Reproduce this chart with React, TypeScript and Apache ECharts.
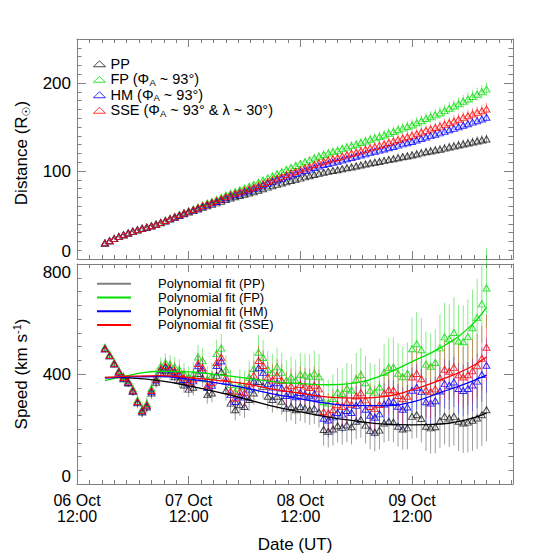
import React, { useEffect, useRef } from 'react';
import * as echarts from 'echarts';

const FONT = "'Liberation Sans', 'DejaVu Sans', Arial, sans-serif";
const AXIS_COLOR = '#808080';

// hours after 06 Oct 12:00 UT
const hours = [
  6, 7, 8, 9, 10, 11, 12, 13, 14, 15,
  16, 17, 18, 19, 20, 21, 22, 23, 24, 25,
  26, 27, 28, 29, 30, 31, 32, 33, 34, 35,
  36, 37, 38, 39, 40, 41, 42, 43, 44, 45,
  46, 47, 48, 49, 50, 51, 52, 53, 54, 55,
  56, 57, 58, 59, 60, 61, 62, 63, 64, 65,
  66, 67, 68, 69, 70, 71, 72, 73, 74, 75,
  76, 77, 78, 79, 80, 81, 82, 83, 84, 85,
  86, 87, 88,
];

// Distance (R_sun)
const ppDist = [
  18.2, 20.8, 23.2, 25.4, 27.5, 29.5, 31.4, 33.1, 34.7, 36.0,
  37.5, 39.2, 41.1, 43.2, 45.3, 47.4, 49.4, 51.4, 53.3, 55.0,
  56.7, 58.7, 60.6, 62.1, 63.8, 65.7, 67.7, 69.4, 70.8, 72.2,
  73.6, 75.0, 76.5, 78.1, 79.9, 81.7, 83.2, 84.8, 86.3, 87.8,
  89.2, 90.6, 91.9, 93.3, 94.6, 96.0, 97.3, 98.6, 99.6, 100.5,
  101.5, 102.5, 103.6, 104.6, 105.6, 106.8, 107.9, 109.0, 109.9, 110.8,
  111.8, 112.9, 114.0, 115.1, 116.2, 117.1, 118.1, 119.4, 120.6, 121.8,
  122.8, 123.8, 124.8, 126.0, 127.2, 128.3, 129.5, 130.7, 131.8, 132.9,
  134.0, 135.2, 136.4,
];
const fpDist = [
  18.2, 20.8, 23.2, 25.5, 27.6, 29.6, 31.6, 33.3, 35.0, 36.4,
  37.9, 39.7, 41.7, 44.0, 46.2, 48.5, 50.6, 52.8, 54.9, 56.9,
  59.0, 61.3, 63.6, 65.5, 67.6, 70.0, 72.6, 74.8, 76.7, 78.6,
  80.6, 82.7, 84.8, 87.1, 89.6, 92.2, 94.4, 96.9, 99.2, 101.7,
  103.9, 106.3, 108.4, 110.6, 112.6, 114.7, 116.8, 118.8, 120.5, 122.0,
  123.6, 125.4, 127.1, 128.8, 130.4, 132.3, 134.1, 136.0, 137.6, 139.2,
  140.9, 142.8, 144.8, 146.8, 148.7, 150.5, 152.3, 154.9, 157.1, 159.6,
  161.7, 163.8, 166.0, 168.6, 171.3, 173.8, 176.5, 179.3, 181.9, 184.6,
  187.3, 190.1, 193.0,
];
const hmDist = [
  18.2, 20.8, 23.2, 25.4, 27.5, 29.5, 31.4, 33.1, 34.8, 36.1,
  37.6, 39.4, 41.3, 43.5, 45.6, 47.8, 49.8, 51.9, 53.8, 55.7,
  57.6, 59.8, 61.8, 63.5, 65.4, 67.5, 69.7, 71.7, 73.3, 74.9,
  76.5, 78.2, 80.0, 81.9, 84.0, 86.1, 87.9, 89.9, 91.7, 93.6,
  95.4, 97.1, 98.8, 100.6, 102.2, 104.0, 105.6, 107.3, 108.6, 109.8,
  111.1, 112.5, 114.0, 115.4, 116.7, 118.2, 119.7, 121.2, 122.4, 123.7,
  125.0, 126.4, 127.9, 129.4, 130.8, 132.1, 133.5, 135.3, 137.0, 138.7,
  140.2, 141.8, 143.3, 145.0, 146.8, 148.4, 150.2, 152.0, 153.7, 155.5,
  157.2, 159.1, 161.0,
];
const sseDist = [
  18.2, 20.8, 23.2, 25.4, 27.5, 29.5, 31.4, 33.2, 34.8, 36.2,
  37.8, 39.5, 41.5, 43.7, 45.9, 48.1, 50.2, 52.3, 54.4, 56.3,
  58.2, 60.5, 62.6, 64.4, 66.4, 68.5, 70.9, 72.9, 74.6, 76.3,
  78.0, 79.7, 81.6, 83.6, 85.7, 88.0, 89.9, 91.9, 93.9, 96.0,
  97.9, 99.8, 101.5, 103.5, 105.3, 107.3, 109.2, 111.0, 112.5, 113.9,
  115.4, 116.9, 118.4, 120.0, 121.4, 123.1, 124.7, 126.3, 127.7, 129.1,
  130.6, 132.3, 134.0, 135.7, 137.5, 138.9, 140.5, 142.4, 144.4, 146.2,
  147.7, 149.4, 151.0, 153.0, 154.9, 156.9, 158.9, 160.9, 162.8, 164.7,
  166.6, 168.5, 170.5,
];

// Distance errors (R_sun)
const ppDistErr = [
  0.5, 0.6, 0.6, 0.7, 0.7, 0.8, 0.9, 0.9, 1.0, 1.0,
  1.1, 1.2, 1.2, 1.3, 1.4, 1.4, 1.5, 1.5, 1.6, 1.7,
  1.7, 1.8, 1.8, 1.9, 2.0, 2.0, 2.1, 2.1, 2.2, 2.3,
  2.3, 2.4, 2.5, 2.5, 2.6, 2.6, 2.7, 2.8, 2.8, 2.9,
  2.9, 3.0, 3.1, 3.1, 3.2, 3.3, 3.3, 3.4, 3.4, 3.5,
  3.6, 3.6, 3.7, 3.7, 3.8, 3.9, 3.9, 4.0, 4.1, 4.1,
  4.2, 4.2, 4.3, 4.4, 4.4, 4.5, 4.5, 4.6, 4.7, 4.7,
  4.8, 4.9, 4.9, 5.0, 5.0, 5.1, 5.2, 5.2, 5.3, 5.3,
  5.4, 5.5, 5.5,
];
const fpDistErr = [
  0.5, 0.6, 0.7, 0.8, 0.8, 0.9, 1.0, 1.1, 1.2, 1.3,
  1.4, 1.5, 1.5, 1.6, 1.7, 1.8, 1.9, 2.0, 2.1, 2.2,
  2.2, 2.3, 2.4, 2.5, 2.6, 2.7, 2.8, 2.8, 2.9, 3.0,
  3.1, 3.2, 3.3, 3.4, 3.5, 3.5, 3.6, 3.7, 3.8, 3.9,
  4.0, 4.1, 4.2, 4.2, 4.3, 4.4, 4.5, 4.6, 4.7, 4.8,
  4.9, 4.9, 5.0, 5.1, 5.2, 5.3, 5.4, 5.5, 5.6, 5.6,
  5.7, 5.8, 5.9, 6.0, 6.1, 6.2, 6.3, 6.3, 6.4, 6.5,
  6.6, 6.7, 6.8, 6.9, 6.9, 7.0, 7.1, 7.2, 7.3, 7.4,
  7.5, 7.6, 7.6,
];
const hmDistErr = [
  0.5, 0.6, 0.6, 0.7, 0.7, 0.8, 0.8, 0.9, 0.9, 1.0,
  1.0, 1.1, 1.1, 1.2, 1.2, 1.3, 1.3, 1.4, 1.4, 1.5,
  1.5, 1.6, 1.6, 1.7, 1.7, 1.8, 1.8, 1.9, 1.9, 2.0,
  2.1, 2.1, 2.2, 2.2, 2.3, 2.3, 2.4, 2.4, 2.5, 2.5,
  2.6, 2.6, 2.7, 2.7, 2.8, 2.8, 2.9, 2.9, 3.0, 3.0,
  3.1, 3.1, 3.2, 3.3, 3.3, 3.4, 3.4, 3.5, 3.5, 3.6,
  3.6, 3.7, 3.7, 3.8, 3.8, 3.9, 3.9, 4.0, 4.0, 4.1,
  4.1, 4.2, 4.2, 4.3, 4.4, 4.4, 4.5, 4.5, 4.6, 4.6,
  4.7, 4.7, 4.8,
];
const sseDistErr = [
  0.5, 0.6, 0.7, 0.7, 0.8, 0.9, 1.0, 1.1, 1.1, 1.2,
  1.3, 1.4, 1.5, 1.5, 1.6, 1.7, 1.8, 1.8, 1.9, 2.0,
  2.1, 2.2, 2.2, 2.3, 2.4, 2.5, 2.6, 2.6, 2.7, 2.8,
  2.9, 3.0, 3.0, 3.1, 3.2, 3.3, 3.3, 3.4, 3.5, 3.6,
  3.7, 3.7, 3.8, 3.9, 4.0, 4.1, 4.1, 4.2, 4.3, 4.4,
  4.5, 4.5, 4.6, 4.7, 4.8, 4.8, 4.9, 5.0, 5.1, 5.2,
  5.2, 5.3, 5.4, 5.5, 5.6, 5.6, 5.7, 5.8, 5.9, 6.0,
  6.0, 6.1, 6.2, 6.3, 6.4, 6.4, 6.5, 6.6, 6.7, 6.8,
  6.8, 6.9, 7.0,
];

// Speed (km/s)
const ppSpeed = [
  492, 466, 436, 406, 383, 367, 336, 295, 262, 280,
  331, 370, 405, 412, 402, 390, 378, 360, 345, 352,
  402, 385, 325, 331, 395, 408, 340, 294, 270, 288,
  282, 307, 331, 373, 355, 319, 307, 319, 301, 276,
  282, 270, 282, 276, 270, 274, 262, 198, 192, 200,
  212, 206, 215, 208, 228, 234, 214, 195, 188, 196,
  222, 228, 225, 210, 200, 204, 246, 252, 238, 210,
  204, 208, 230, 246, 240, 246, 228, 222, 225, 232,
  240, 252, 270,
];
const fpSpeed = [
  497, 472, 443, 413, 391, 376, 346, 305, 272, 293,
  348, 390, 429, 441, 434, 425, 416, 401, 388, 401,
  462, 448, 382, 393, 474, 494, 415, 362, 335, 359,
  354, 388, 420, 479, 460, 417, 405, 426, 406, 377,
  389, 377, 399, 396, 392, 403, 390, 299, 294, 311,
  334, 329, 348, 342, 381, 397, 368, 341, 334, 353,
  406, 424, 425, 403, 390, 403, 492, 510, 488, 436,
  428, 442, 495, 535, 528, 551, 520, 517, 536, 568,
  605, 655, 713,
];
const hmSpeed = [
  492, 466, 437, 408, 385, 369, 339, 298, 265, 284,
  337, 378, 415, 425, 417, 407, 397, 380, 366, 375,
  430, 414, 351, 359, 431, 447, 374, 325, 300, 321,
  316, 345, 374, 423, 405, 365, 353, 368, 349, 322,
  330, 317, 333, 327, 321, 328, 315, 239, 233, 244,
  260, 254, 267, 260, 286, 296, 272, 250, 243, 255,
  291, 302, 300, 283, 272, 280, 341, 352, 336, 299,
  294, 303, 338, 365, 359, 371, 347, 340, 347, 360,
  374, 398, 432,
];
const sseSpeed = [
  492, 467, 438, 409, 387, 372, 341, 300, 267, 287,
  340, 381, 419, 430, 422, 413, 403, 386, 372, 382,
  438, 423, 359, 368, 442, 461, 388, 338, 313, 337,
  332, 364, 396, 449, 431, 389, 378, 395, 376, 347,
  357, 344, 362, 356, 351, 359, 346, 263, 257, 270,
  288, 282, 297, 290, 320, 332, 306, 282, 274, 289,
  331, 343, 342, 322, 310, 319, 389, 402, 383, 342,
  336, 346, 386, 417, 410, 424, 397, 389, 397, 412,
  430, 457, 497,
];

// Speed errors (km/s)
const ppSpeedErr = [
  10, 11, 12, 13, 14, 15, 16, 18, 19, 20,
  21, 22, 23, 24, 25, 26, 27, 28, 29, 30,
  31, 32, 33, 34, 35, 36, 37, 38, 39, 40,
  41, 42, 43, 44, 45, 46, 47, 48, 49, 50,
  51, 52, 53, 54, 55, 56, 57, 58, 59, 60,
  61, 62, 63, 64, 65, 66, 67, 68, 69, 70,
  71, 72, 73, 74, 75, 78, 81, 84, 87, 90,
  93, 96, 99, 102, 105, 106, 108, 109, 110, 111,
  113, 114, 115,
];
const fpSpeedErr = [
  12, 14, 15, 17, 19, 20, 22, 24, 25, 27,
  29, 30, 32, 34, 35, 37, 38, 40, 41, 43,
  44, 46, 47, 49, 50, 52, 53, 55, 56, 58,
  59, 61, 62, 64, 65, 67, 68, 70, 71, 73,
  74, 76, 77, 79, 80, 82, 83, 85, 86, 88,
  89, 91, 92, 94, 95, 97, 98, 100, 101, 103,
  104, 106, 107, 109, 110, 112, 113, 115, 116, 118,
  119, 121, 122, 124, 125, 128, 130, 133, 135, 138,
  141, 143, 146,
];
const hmSpeedErr = [
  10, 11, 13, 14, 15, 16, 18, 19, 20, 22,
  23, 24, 25, 27, 28, 29, 30, 32, 33, 34,
  35, 36, 37, 39, 40, 41, 42, 43, 44, 45,
  46, 47, 48, 49, 50, 51, 52, 53, 54, 55,
  56, 57, 58, 59, 60, 61, 62, 63, 64, 65,
  66, 67, 68, 69, 70, 71, 72, 73, 74, 75,
  76, 77, 78, 79, 80, 81, 82, 83, 84, 85,
  86, 87, 88, 89, 90, 91, 93, 94, 95, 96,
  98, 99, 100,
];
const sseSpeedErr = [
  11, 12, 14, 15, 16, 18, 19, 20, 22, 23,
  24, 26, 27, 29, 30, 32, 33, 35, 36, 38,
  39, 41, 42, 44, 45, 46, 47, 48, 49, 50,
  51, 52, 53, 54, 55, 56, 58, 59, 60, 62,
  63, 64, 66, 67, 68, 69, 70, 72, 73, 74,
  75, 76, 78, 79, 80, 81, 82, 83, 84, 85,
  86, 87, 88, 89, 90, 92, 93, 95, 96, 98,
  99, 101, 102, 104, 105, 107, 109, 111, 113, 115,
  116, 118, 120,
];

// Polynomial fits (km/s)
const fitHours = [6, 12, 18, 24, 30, 36, 42, 48, 54, 60, 66, 72, 78, 84, 88];
const ppFit = [388, 385, 375, 357, 335, 310, 283, 262, 243, 229, 218, 215, 218, 235, 258];
const fpFit = [376, 398, 410, 408, 398, 386, 372, 365, 361, 368, 398, 445, 494, 565, 642];
const hmFit = [385, 390, 391, 381, 368, 350, 328, 310, 293, 285, 285, 298, 332, 368, 396];
const sseFit = [387, 392, 394, 387, 377, 365, 345, 330, 316, 312, 318, 342, 378, 420, 462];

const xTickHours = [0, 24, 48, 72];
const xTickLabels = ['06 Oct\n12:00', '07 Oct\n12:00', '08 Oct\n12:00', '09 Oct\n12:00'];
const distTicks = [0, 100, 200];
const speedTicks = [0, 400, 800];

const seriesNames = ['PP', 'FP', 'HM', 'SSE'];
const legendLabels = [
  'PP',
  'FP (Φ{sub|A} ~ 93°)',
  'HM (Φ{sub|A} ~ 93°)',
  'SSE (Φ{sub|A} ~ 93° & λ ~ 30°)',
];
const fitNames = ['Polynomial fit (PP)', 'Polynomial fit (FP)', 'Polynomial fit (HM)', 'Polynomial fit (SSE)'];

const markColors = ['#1a1a1a', '#00dd00', '#0000ff', '#ff0000'];
const barColors = ['rgba(40,40,40,0.45)', 'rgba(0,210,0,0.45)', 'rgba(0,0,255,0.4)', 'rgba(255,0,0,0.4)'];
const fitColors = ['#000000', '#00e000', '#0000ff', '#ff0000'];
const legendLineColors = ['#808080', '#00e000', '#0000ff', '#ff0000'];

const tickStyle = { color: AXIS_COLOR, width: 1 };

function makeX(gridIndex: number, position: 'top' | 'bottom', withLabels: boolean) {
  return {
    type: 'value',
    gridIndex,
    position,
    min: 0,
    max: 93.7,
    interval: 24,
    axisLine: { show: true, onZero: false, lineStyle: tickStyle },
    axisTick: { show: true, inside: true, length: 8, lineStyle: tickStyle },
    minorTick: { show: true, splitNumber: 9, length: 4, lineStyle: tickStyle },
    splitLine: { show: false },
    minorSplitLine: { show: false },
    axisLabel: withLabels
      ? {
          show: true,
          interval: 0,
          margin: 8,
          fontSize: 16,
          lineHeight: 16,
          color: '#000',
          fontFamily: FONT,
          formatter: (v: number) => {
            const i = xTickHours.indexOf(v);
            return i >= 0 ? xTickLabels[i] : '';
          },
        }
      : { show: false },
    name: withLabels ? 'Date (UT)' : '',
    nameLocation: 'middle',
    nameGap: 52,
    nameTextStyle: { fontSize: 17, lineHeight: 17, color: '#000', fontFamily: FONT },
  };
}

function makeY(
  gridIndex: number,
  position: 'left' | 'right',
  max: number,
  interval: number,
  minorSplit: number,
  ticks: number[],
  name: string,
  rich: any,
  namePadding: number[],
) {
  const withLabels = position === 'left';
  const labelRich = {
    lo: { fontSize: 17, fontFamily: FONT, color: '#000', padding: [0, 0, 16, 0] },
    hi: { fontSize: 17, fontFamily: FONT, color: '#000', padding: [16, 0, 0, 0] },
  };
  return {
    type: 'value',
    gridIndex,
    position,
    min: 0,
    max,
    interval,
    axisLine: { show: true, onZero: false, lineStyle: tickStyle },
    axisTick: { show: true, inside: true, length: 9, lineStyle: tickStyle },
    minorTick: { show: true, splitNumber: minorSplit, length: 4.5, lineStyle: tickStyle },
    splitLine: { show: false },
    minorSplitLine: { show: false },
    axisLabel: withLabels
      ? {
          show: true,
          margin: 6,
          fontSize: 17,
          color: '#000',
          fontFamily: FONT,
          rich: labelRich,
          formatter: (v: number) => {
            if (ticks.indexOf(v) < 0) return '';
            if (v === ticks[0]) return '{lo|' + v + '}';
            if (v === max) return '{hi|' + v + '}';
            return String(v);
          },
        }
      : { show: false },
    name: withLabels ? name : '',
    nameLocation: 'middle',
    nameGap: 45,
    nameTextStyle: {
      fontSize: 17,
      lineHeight: 20,
      color: '#000',
      fontFamily: FONT,
      padding: namePadding,
      rich,
    },
  };
}

function errorSeries(xi: number, yi: number, vals: number[], errs: number[], color: string) {
  return {
    type: 'custom',
    xAxisIndex: xi,
    yAxisIndex: yi,
    clip: false,
    silent: true,
    z: 2,
    data: hours.map((h, i) => [h, vals[i], errs[i]]),
    encode: { x: 0, y: 1 },
    renderItem: (_p: any, api: any) => {
      const x = api.value(0);
      const v = api.value(1);
      const e = api.value(2);
      const a = api.coord([x, v - e]);
      const b = api.coord([x, v + e]);
      return {
        type: 'line',
        shape: { x1: a[0], y1: a[1], x2: b[0], y2: b[1] },
        style: { stroke: color, lineWidth: 1 },
      };
    },
  };
}

function triSeries(name: string, xi: number, yi: number, vals: number[], color: string) {
  return {
    type: 'scatter',
    name,
    xAxisIndex: xi,
    yAxisIndex: yi,
    symbol: 'triangle',
    symbolSize: [7, 6],
    z: 3,
    data: hours.map((h, i) => [h, vals[i]]),
    itemStyle: { color: 'rgba(0,0,0,0)', borderColor: color, borderWidth: 1 },
    emphasis: { disabled: true },
  };
}

export default function App() {
  const ref = useRef<HTMLDivElement>(null);
  useEffect(() => {
    document.body.style.margin = '0';
    const chart = echarts.init(ref.current as HTMLDivElement, null, { renderer: 'svg' });
    const dists = [ppDist, fpDist, hmDist, sseDist];
    const distErrs = [ppDistErr, fpDistErr, hmDistErr, sseDistErr];
    const speeds = [ppSpeed, fpSpeed, hmSpeed, sseSpeed];
    const speedErrs = [ppSpeedErr, fpSpeedErr, hmSpeedErr, sseSpeedErr];
    const fits = [ppFit, fpFit, hmFit, sseFit];

    const series: any[] = [];
    for (let k = 0; k < 4; k++) series.push(errorSeries(0, 0, dists[k], distErrs[k], barColors[k]));
    for (let k = 0; k < 4; k++) series.push(triSeries(seriesNames[k], 0, 0, dists[k], markColors[k]));
    for (let k = 0; k < 4; k++) series.push(errorSeries(2, 2, speeds[k], speedErrs[k], barColors[k]));
    for (let k = 0; k < 4; k++) series.push(triSeries(seriesNames[k] + ' speed', 2, 2, speeds[k], markColors[k]));
    for (let k = 0; k < 4; k++) {
      series.push({
        type: 'line',
        name: fitNames[k],
        xAxisIndex: 2,
        yAxisIndex: 2,
        data: fitHours.map((h, i) => [h, fits[k][i]]),
        symbol: 'none',
        showSymbol: false,
        smooth: true,
        z: 4,
        lineStyle: { color: fitColors[k], width: 1.3 },
        itemStyle: { color: legendLineColors[k] },
        emphasis: { disabled: true },
      });
    }

    const subRich = {
      sub: { fontSize: 11, lineHeight: 8, verticalAlign: 'bottom', fontFamily: FONT, color: '#000' },
    };
    const supRich = {
      sup: { fontSize: 11, lineHeight: 6, verticalAlign: 'top', fontFamily: FONT, color: '#000' },
    };

    const option: any = {
      animation: false,
      backgroundColor: '#ffffff',
      textStyle: { fontFamily: FONT },
      grid: [
        { left: 77, top: 39, width: 436, height: 220 },
        { left: 77, top: 264, width: 436, height: 220 },
      ],
      xAxis: [
        makeX(0, 'bottom', false),
        makeX(0, 'top', false),
        makeX(1, 'bottom', true),
        makeX(1, 'top', false),
      ],
      yAxis: [
        makeY(0, 'left', 250, 100, 10, distTicks, 'Distance (R{sub|☉})', subRich, [0, 8, 0, 0]),
        makeY(0, 'right', 250, 100, 10, distTicks, '', subRich, [0, 0, 0, 0]),
        makeY(1, 'left', 800, 400, 8, speedTicks, 'Speed (km s{sup|-1})', supRich, [0, 0, 0, 0]),
        makeY(1, 'right', 800, 400, 8, speedTicks, '', supRich, [0, 0, 0, 0]),
      ],
      legend: [
        {
          data: seriesNames,
          orient: 'vertical',
          left: 93,
          top: 56,
          padding: 0,
          itemWidth: 12,
          itemHeight: 6,
          itemGap: 0,
          selectedMode: false,
          itemStyle: { borderWidth: 1 },
          formatter: (n: string) => legendLabels[seriesNames.indexOf(n)],
          textStyle: {
            fontSize: 14.5,
            lineHeight: 15.5,
            color: '#000',
            fontFamily: FONT,
            rich: {
              sub: { fontSize: 9.5, lineHeight: 6, verticalAlign: 'bottom', fontFamily: FONT, color: '#000' },
            },
          },
        },
        {
          data: fitNames,
          orient: 'vertical',
          left: 97,
          top: 277,
          padding: 0,
          icon: 'rect',
          itemWidth: 34,
          itemHeight: 2,
          itemGap: 0,
          selectedMode: false,
          itemStyle: { borderWidth: 0 },
          textStyle: {
            fontSize: 13,
            lineHeight: 13.7,
            color: '#000',
            fontFamily: FONT,
            padding: [0, 0, 0, 22],
          },
        },
      ],
      series,
    };
    chart.setOption(option);
    return () => chart.dispose();
  }, []);
  return <div ref={ref} style={{ width: 560, height: 560 }} />;
}
